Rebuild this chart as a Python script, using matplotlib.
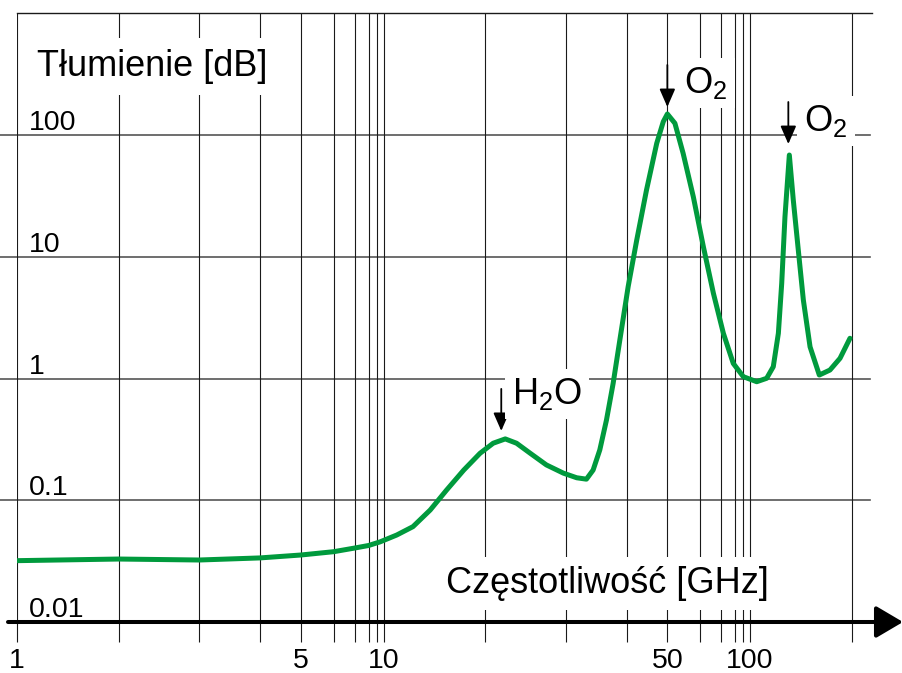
import numpy as np
import matplotlib
matplotlib.use("Agg")
import matplotlib.pyplot as plt
import matplotlib.transforms as mtransforms

plt.rcParams["font.family"] = ["Liberation Sans", "DejaVu Sans"]
plt.rcParams["mathtext.fontset"] = "custom"
plt.rcParams["mathtext.rm"] = "Liberation Sans"

# atmospheric attenuation vs frequency
freq = [1, 2, 3, 4, 5, 6, 7, 8, 9.5,
        11.3, 12.9, 14.6, 16.2, 17.9, 19.5, 21.0, 22.5, 23.9, 25.6, 27.6, 29.7, 31.8, 33.4,
        34.5, 35.6, 36.7, 37.8, 38.9, 40.4, 42.5, 44.9, 47.4, 49.0, 50.0, 52.3, 54.8,
        57.9, 61.5, 66.3, 71.6, 78.7, 90.4,
        106.6, 116.4, 122.9, 127.9, 131.2, 134.4, 138.7, 142.6, 147.5, 152.5, 159.1,
        168.2, 178.7, 188.6, 198.4]
atten = [0.0319, 0.0329, 0.0323, 0.0336, 0.0355, 0.0378, 0.0405, 0.0425, 0.0455,
         0.0518, 0.0607, 0.0832, 0.121, 0.177, 0.243, 0.294, 0.319, 0.294, 0.243, 0.195, 0.167, 0.153, 0.149,
         0.177, 0.259, 0.456, 0.913, 2.07, 5.68, 13.7, 35.4, 85.5, 128.6, 148.8, 124.8, 70.7,
         31.1, 12.1, 5.01, 2.35, 1.33, 1.035,
         0.941, 1.004, 1.25, 2.35, 6.05, 21.3, 68.5, 29.2, 11.4, 4.41, 1.82,
         1.068, 1.174, 1.465, 2.14]

peak_freq = [22.5, 50, 138.7]
peak_atten = [0.319, 148.8, 68.5]
peak_labels = [r"$\mathregular{H_2O}$", r"$\mathregular{O_2}$", r"$\mathregular{O_2}$"]

grid_x = [1, 2, 3, 4, 5, 6, 7, 8, 9, 10, 20, 30, 40, 50, 60, 70, 80, 90, 100, 200]
x_labels = {1: "1", 5: "5", 10: "10", 50: "50", 100: "100"}
grid_y = [0.1, 1, 10, 100]
y_labels = ["100", "10", "1", "0.1", "0.01"]
y_label_vals = [100, 10, 1, 0.1, 0.01]

# the paper's frequency grid: same uneven spacing repeated every decade
mant = np.array([1, 2, 3, 4, 5, 6, 7, 8, 9, 10], dtype=float)
frac = np.array([0, 102, 183, 244, 285, 318, 339, 353, 361, 368]) / 368.0


def fwd(x):
    x = np.clip(np.asarray(x, dtype=float), 1e-6, None)
    d = np.floor(np.log10(x) + 1e-12)
    m = x / 10.0 ** d
    return d + np.interp(m, mant, frac)


def inv(u):
    u = np.asarray(u, dtype=float)
    d = np.floor(u)
    return np.interp(u - d, frac, mant) * 10.0 ** d


fig = plt.figure(figsize=(9.03, 6.73), dpi=100)
ax = fig.add_axes([17 / 903, 51 / 673, 853 / 903, 608.75 / 673])
ax.set_xscale("function", functions=(fwd, inv))
ax.set_yscale("log")
ax.set_xlim(1, 222.8)
ax.set_ylim(0.01, 1000)

for s in ax.spines.values():
    s.set_visible(False)

# vertical grid + ticks hanging below the axis
ax.set_xticks(grid_x)
ax.set_xticklabels([x_labels.get(v, "") for v in grid_x], fontsize=20.5)
ax.tick_params(axis="x", direction="out", length=14.4, width=0.8, color="#1a1a1a", pad=4)
ax.xaxis.grid(True, color="#1a1a1a", lw=0.8)
ax.set_yticks([])
ax.minorticks_off()

for y in grid_y:
    ax.axhline(y, xmin=-17 / 853, xmax=1.0, color="#555555", lw=1.2, clip_on=False, zorder=1)
ax.axhline(1000, xmin=0, xmax=1.002, color="#1a1a1a", lw=1.0, clip_on=False, zorder=1)

for lab, v in zip(y_labels, y_label_vals):
    ax.annotate(lab, xy=(0, v), xycoords=("axes fraction", "data"), xytext=(12, 5),
                textcoords="offset pixels", fontsize=20.5, va="baseline", ha="left")

ax.plot(freq, atten, color="#009a3d", lw=3.6, solid_joinstyle="round",
        solid_capstyle="round", zorder=3)

# peak markers: arrow tip sits a few pixels above each peak
arrow_dx = [-4, 0, -1]
arrow_gap = [8, 7, 11]
text_off = [(7, 35), (17, 21), (15, 24)]
for f, a, lab, dx, gap, toff in zip(peak_freq, peak_atten, peak_labels, arrow_dx, arrow_gap, text_off):
    tip = mtransforms.offset_copy(ax.transData, fig=fig, x=dx, y=gap, units="dots")
    ax.annotate("", xy=(f, a), xycoords=tip, xytext=(0, 42), textcoords="offset pixels",
                arrowprops=dict(arrowstyle="-|>,head_length=0.55,head_width=0.24",
                                color="k", lw=1.3, shrinkA=0, shrinkB=0,
                                mutation_scale=20),
                zorder=5)
    ax.annotate(lab, xy=(f, a), xytext=toff, textcoords="offset pixels",
                fontsize=26, va="baseline", ha="left", zorder=6,
                bbox=dict(boxstyle="square,pad=0.2", fc="white", ec="none"))

ax.text(0.0234, 0.897, "Tłumienie [dB]", transform=ax.transAxes, fontsize=26,
        va="baseline", ha="left", zorder=6,
        bbox=dict(boxstyle="square,pad=0.3", fc="white", ec="none"))
ax.text(0.503, 0.0476, "Częstotliwość [GHz]", transform=ax.transAxes, fontsize=26,
        va="baseline", ha="left", zorder=6,
        bbox=dict(boxstyle="square,pad=0.25", fc="white", ec="none"))

# frequency axis with arrow
ax.annotate("", xy=(903, 51), xycoords="figure pixels", xytext=(8, 51),
            textcoords="figure pixels", annotation_clip=False,
            arrowprops=dict(arrowstyle="-|>,head_length=0.83,head_width=0.49",
                            color="k", lw=2.9, shrinkA=0, shrinkB=0, mutation_scale=20),
            zorder=7)

fig.savefig("out.png", dpi=100)
